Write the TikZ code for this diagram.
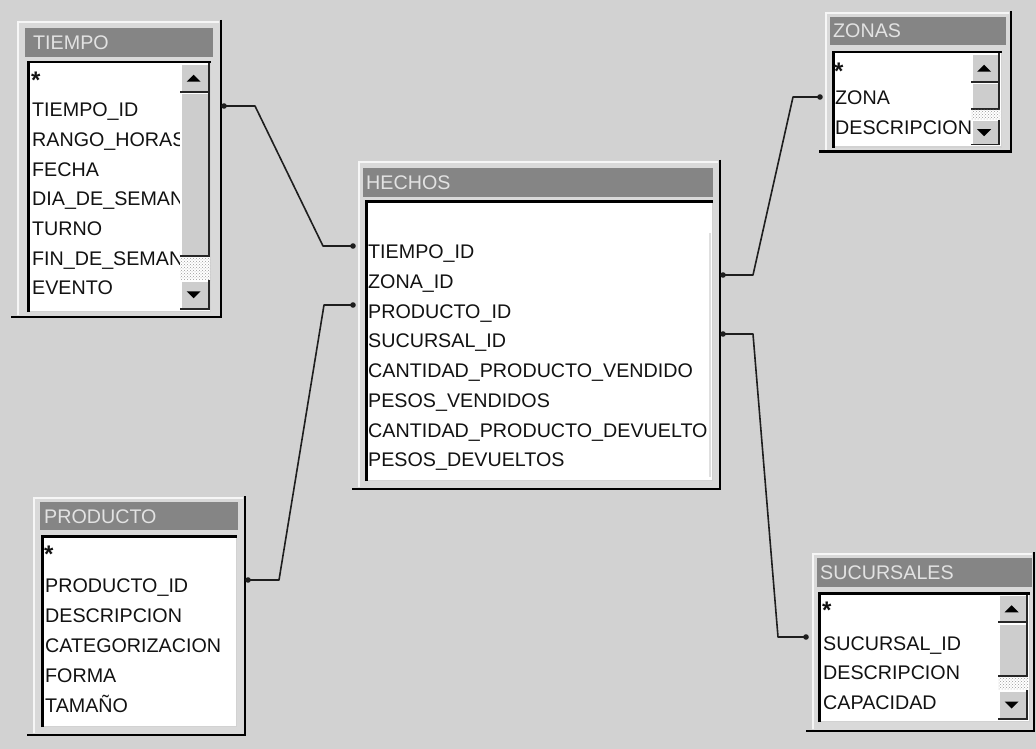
\documentclass[tikz,border=0pt]{standalone}
\usepackage{fontspec}
\setmainfont{Liberation Sans}
\usetikzlibrary{calc,patterns}
\definecolor{bg}{HTML}{D2D2D2}
\definecolor{face}{HTML}{D9D9D9}
\definecolor{hilite}{HTML}{F6F6F6}
\definecolor{titlebg}{HTML}{858585}
\definecolor{titletext}{HTML}{E2E2E2}
\definecolor{btnface}{HTML}{CDCDCD}
\definecolor{ink}{HTML}{121212}
\definecolor{wire}{HTML}{1E1E1E}
\tikzset{
  rowtext/.style={anchor=base west, inner sep=0pt, font=\fontsize{19.7}{24}\selectfont, text=ink},
  startext/.style={anchor=base west, inner sep=0pt, font=\bfseries\fontsize{24}{26}\selectfont, text=ink},
  titletxt/.style={anchor=base west, inner sep=0pt, font=\fontsize{19.7}{24}\selectfont, text=titletext},
  wirestyle/.style={draw=wire, line width=1.6pt, line join=round},
}
% outer window frame: x1 y1 x2 y2 (image coordinates)
\newcommand\winframe[4]{%
  \fill[face] (#1,#2) rectangle (#3,#4);
  \draw[hilite, line width=2pt] ({#1+1},{#4-3}) -- ({#1+1},{#2+1}) -- ({#3-3},{#2+1});
  \draw[black, line width=2.5pt] ({#3-1.25},{#2-1}) -- ({#3-1.25},{#4-1.25}) -- ({#1-6},{#4-1.25});
}
% title bar
\newcommand\titlebar[4]{%
  \fill[titlebg] (#1,#2) rectangle (#3,#4);
}
% sunken list box
\newcommand\listbox[4]{%
  \fill[white] (#1,#2) rectangle (#3,#4);
  \draw[hilite!70!gray, line width=1.5pt] (#1,{#4-0.75}) -- ({#3-0.75},{#4-0.75}) -- ({#3-0.75},#2);
  \draw[black, line width=2.5pt] ({#1+1.25},#4) -- ({#1+1.25},{#2+1.25}) -- (#3,{#2+1.25});
}
% scroll bar button x1 y1 x2 y2
\newcommand\sbtn[4]{%
  \fill[btnface] (#1,#2) rectangle (#3,#4);
  \draw[white, line width=1.5pt] ({#1+0.75},#4) -- ({#1+0.75},{#2+0.75}) -- (#3,{#2+0.75});
  \draw[black!85, line width=1.8pt] (#1,{#4-0.9}) -- ({#3-0.9},{#4-0.9}) -- ({#3-0.9},#2);
}
% scroll bar: x1 x2 ytop upbottom thumbbottom downtop downbottom
\newcommand\sbar[7]{%
  \sbtn{#1}{#3}{#2}{#4}
  \sbtn{#1}{#4}{#2}{#5}
  \fill[white] (#1,#5) rectangle (#2,#6);
  \fill[pattern=crosshatch dots, pattern color=gray!80] (#1,#5) rectangle (#2,#6);
  \sbtn{#1}{#6}{#2}{#7}
  \fill[black] ({(#1+#2)/2-8.5},{(#3+#4)/2+3.5}) -- ({(#1+#2)/2+5.5},{(#3+#4)/2+3.5}) -- ({(#1+#2)/2-1.5},{(#3+#4)/2-3.5}) -- cycle;
  \fill[black] ({(#1+#2)/2-8.5},{(#6+#7)/2-3.5}) -- ({(#1+#2)/2+5.5},{(#6+#7)/2-3.5}) -- ({(#1+#2)/2-1.5},{(#6+#7)/2+3.5}) -- cycle;
}
\begin{document}
\begin{tikzpicture}[x=1pt,y=-1pt]
\useasboundingbox (0,0) rectangle (1036,749);
\fill[bg] (0,0) rectangle (1036,749);

% ---------------- TIEMPO ----------------
\winframe{17}{21}{222}{318}
\titlebar{25}{28}{213}{57}
\node[titletxt] (tTitle) at (33,49.5) {TIEMPO};
\listbox{27}{61}{211}{312}
\begin{scope}
  \clip (29.5,63.5) rectangle (209,310);
  \node[startext] (t0) at (31,89) {*};
  \node[rowtext] (t1) at (32,116.7) {TIEMPO\_ID};
  \node[rowtext] (t2) at (32,146.4) {RANGO\_HORAS};
  \node[rowtext] (t3) at (32,176.1) {FECHA};
  \node[rowtext] (t4) at (32,205.8) {DIA\_DE\_SEMANA};
  \node[rowtext] (t5) at (32,235.5) {TURNO};
  \node[rowtext] (t6) at (32,265.2) {FIN\_DE\_SEMANA};
  \node[rowtext] (t7) at (32,294.9) {EVENTO};
\end{scope}
\sbar{180}{210}{63.5}{93}{257}{280}{309.5}

% ---------------- ZONAS ----------------
\winframe{825}{12}{1012}{153}
\titlebar{830}{17}{1006}{45}
\node[titletxt] (zTitle) at (833,38) {ZONAS};
\listbox{832}{51}{1002}{148}
\begin{scope}
  \clip (834.5,53.5) rectangle (1000,146);
  \node[startext] (z0) at (834,80) {*};
  \node[rowtext] (z1) at (835,105) {ZONA};
  \node[rowtext] (z2) at (835,135) {DESCRIPCION};
\end{scope}
\sbar{971}{1000}{53.5}{83}{110}{120}{145.5}

% ---------------- HECHOS ----------------
\winframe{358}{161}{721}{490}
\titlebar{363}{168}{713}{197}
\node[titletxt] (hTitle) at (366,189.5) {HECHOS};
\listbox{365}{200}{713}{481}
\draw[gray!25, line width=1.5pt] (710,233) -- (710,477);
\node[rowtext] (h1) at (368,258.5) {TIEMPO\_ID};
\node[rowtext] (h2) at (368,288.25) {ZONA\_ID};
\node[rowtext] (h3) at (368,318) {PRODUCTO\_ID};
\node[rowtext] (h4) at (368,347.75) {SUCURSAL\_ID};
\node[rowtext] (h5) at (368,377.5) {CANTIDAD\_PRODUCTO\_VENDIDO};
\node[rowtext] (h6) at (368,407.25) {PESOS\_VENDIDOS};
\node[rowtext] (h7) at (368,437) {CANTIDAD\_PRODUCTO\_DEVUELTO};
\node[rowtext] (h8) at (368,466.75) {PESOS\_DEVUELTOS};

% ---------------- PRODUCTO ----------------
\winframe{33}{497}{246}{736}
\titlebar{40}{502}{238}{530}
\node[titletxt] (pTitle) at (44,523) {PRODUCTO};
\listbox{41}{535}{237}{727}
\node[startext] (p0) at (44,562) {*};
\node[rowtext] (p1) at (45,592) {PRODUCTO\_ID};
\node[rowtext] (p2) at (45,622) {DESCRIPCION};
\node[rowtext] (p3) at (45,652) {CATEGORIZACION};
\node[rowtext] (p4) at (45,682) {FORMA};
\node[rowtext] (p5) at (45,712) {TAMAÑO};

% ---------------- SUCURSALES ----------------
\winframe{812}{553}{1035}{732}
\titlebar{817}{558}{1032}{587}
\node[titletxt] (sTitle) at (820,579.5) {SUCURSALES};
\listbox{818}{592}{1030}{722}
\begin{scope}
  \clip (820.5,594.5) rectangle (1028,720);
  \node[startext] (s0) at (822,618) {*};
  \node[rowtext] (s1) at (823,650) {SUCURSAL\_ID};
  \node[rowtext] (s2) at (823,679.5) {DESCRIPCION};
  \node[rowtext] (s3) at (823,709) {CAPACIDAD};
\end{scope}
\sbar{998}{1028}{594.5}{623}{677}{690}{720}

% ---------------- connectors ----------------
\coordinate (cT) at (224,106);
\coordinate (cH1) at (353,246);
\coordinate (cP) at (248,580);
\coordinate (cH3) at (353,305);
\coordinate (cZ) at (820,97);
\coordinate (cH2) at (723,275);
\coordinate (cS) at (806,637);
\coordinate (cH4) at (723,334);

\draw[wirestyle] (cT) -- ++(31,0) -- ($(cH1)+(-30,0)$) -- (cH1);
\draw[wirestyle] (cP) -- ++(31,0) -- ($(cH3)+(-29,0)$) -- (cH3);
\draw[wirestyle] (cZ) -- ++(-27,0) -- ($(cH2)+(30,0)$) -- (cH2);
\draw[wirestyle] (cS) -- ++(-28,0) -- ($(cH4)+(30,0)$) -- (cH4);
\foreach \c in {cT,cH1,cP,cH3,cZ,cH2,cS,cH4} \fill[wire] (\c) circle (2.8);
\end{tikzpicture}
\end{document}
